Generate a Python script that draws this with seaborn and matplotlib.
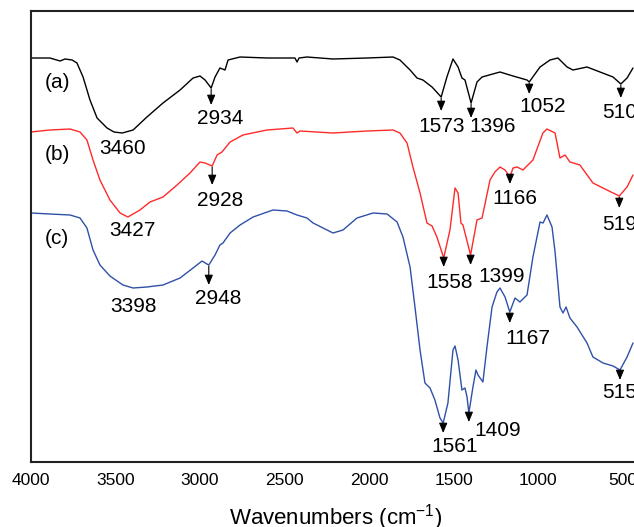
from matplotlib import pyplot as plt
import numpy as np
import pandas as pd
import seaborn as sns

# FTIR spectra, values (transmittance in arbitrary units)
wn_a = [4000, 3888, 3828, 3799, 3757, 3728, 3692, 3651, 3609, 3550, 3509, 3460,
        3396, 3314, 3219, 3118, 3041, 3000, 2970, 2934, 2911, 2882, 2852, 2834,
        2763, 2604, 2438, 2426, 2414, 2367, 2213, 2012, 1858, 1817, 1757, 1716,
        1681, 1627, 1573, 1539, 1503, 1473, 1450, 1432, 1396, 1361, 1331, 1225,
        1148, 1065, 1052, 988, 929, 882, 828, 793, 710, 633, 556, 510, 473, 438]
t_a = [404, 404, 401, 403, 402, 399, 385, 362, 344, 334, 330, 329,
       332, 345, 359, 372, 384, 386, 382, 374, 385, 394, 392, 402,
       405, 404, 404, 400, 404, 405, 403, 404, 405, 402, 392, 384,
       382, 375, 365, 385, 403, 395, 384, 382, 359, 380, 385, 390,
       386, 382, 380, 395, 402, 404, 395, 392, 395, 390, 385, 378, 384, 394]

wn_b = [4000, 3888, 3769, 3710, 3669, 3633, 3592, 3533, 3473, 3427, 3355, 3296,
        3219, 3136, 3059, 3000, 2970, 2928, 2899, 2870, 2822, 2746, 2604, 2450,
        2426, 2408, 2213, 2012, 1858, 1817, 1775, 1740, 1698, 1657, 1627, 1598,
        1558, 1521, 1491, 1473, 1456, 1444, 1399, 1361, 1331, 1284, 1255, 1225,
        1195, 1166, 1148, 1124, 1089, 1030, 971, 947, 899, 870, 840, 811, 752,
        675, 592, 519, 473, 438]
t_b = [330, 332, 333, 330, 322, 302, 282, 262, 249, 245, 252, 260,
       265, 277, 289, 300, 299, 296, 307, 310, 320, 327, 332, 334,
       329, 331, 329, 331, 332, 329, 319, 295, 269, 239, 236, 225,
       204, 232, 274, 269, 239, 237, 207, 242, 244, 282, 290, 295,
       292, 285, 294, 295, 292, 302, 329, 333, 329, 304, 307, 300, 297,
       279, 272, 266, 275, 287]

wn_c = [4000, 3888, 3769, 3710, 3669, 3633, 3592, 3533, 3456, 3396, 3314, 3219,
        3118, 3041, 2988, 2959, 2948, 2911, 2882, 2864, 2822, 2763, 2686, 2568,
        2485, 2426, 2367, 2331, 2213, 2154, 2071, 1976, 1893, 1834, 1799, 1757,
        1728, 1698, 1669, 1639, 1610, 1580, 1561, 1533, 1503, 1491, 1473, 1450,
        1432, 1420, 1409, 1385, 1367, 1355, 1326, 1302, 1272, 1243, 1225, 1195,
        1167, 1136, 1107, 1065, 1030, 988, 970, 947, 917, 899, 870, 852, 834,
        811, 769, 710, 675, 615, 556, 515, 473, 438]
t_c = [249, 248, 247, 244, 234, 212, 197, 186, 177, 174, 175, 177,
       184, 194, 201, 198, 197, 207, 217, 219, 229, 237, 245, 252,
       251, 247, 244, 239, 229, 232, 244, 249, 248, 240, 225, 195,
       155, 112, 79, 74, 62, 44, 39, 59, 112, 116, 102, 72,
       74, 65, 49, 75, 92, 87, 80, 115, 155, 170, 174, 165,
       150, 164, 160, 167, 205, 240, 239, 247, 235, 210, 155, 149, 155,
       144, 135, 119, 105, 99, 96, 92, 105, 119]

curve_names = ['(a)', '(b)', '(c)']
curve_colors = ['black', '#ff2a2a', '#3050a8']

# peak labels: (curve index, label, wavenumber)
peak_curve = [0, 0, 0, 0, 0, 0, 1, 1, 1, 1, 1, 1, 2, 2, 2, 2, 2, 2]
peak_text = ['3460', '2934', '1573', '1396', '1052', '510',
             '3427', '2928', '1558', '1399', '1166', '519',
             '3398', '2948', '1561', '1409', '1167', '515']
peak_wn = [3460, 2934, 1573, 1396, 1052, 510,
           3427, 2928, 1558, 1399, 1166, 519,
           3398, 2948, 1561, 1409, 1167, 515]

sns.set_style('white')
plt.rcParams['font.family'] = ['Liberation Sans', 'DejaVu Sans']
plt.rcParams['mathtext.fontset'] = 'custom'
plt.rcParams['mathtext.rm'] = 'Liberation Sans'
plt.rcParams['mathtext.it'] = 'Liberation Sans:italic'
plt.rcParams['text.color'] = 'black'
plt.rcParams['axes.labelcolor'] = 'black'
plt.rcParams['xtick.color'] = 'black'

W, H = 634, 527
fig = plt.figure(figsize=(W / 100, H / 100), dpi=100)
x_left, x_right = 31, 639.4   # right spine falls outside the picture (cropped)
y_top, y_bot = 11, 462
ax = fig.add_axes([x_left / W, (H - y_bot) / H,
                   (x_right - x_left) / W, (y_bot - y_top) / H])

data = [(wn_a, t_a), (wn_b, t_b), (wn_c, t_c)]
for (wn, t), name, col in zip(data, curve_names, curve_colors):
    df = pd.DataFrame({'wn': wn, 't': t})
    sns.lineplot(data=df, x='wn', y='t', color=col, lw=1.0, estimator=None,
                 ax=ax)

ax.set_xlim(4000, 400)
ax.set_ylim(0, 451)
ax.set_xticks(np.arange(4000, 499, -500))
ax.set_yticks([])
ax.set_ylabel('')
ax.tick_params(axis='x', length=0, pad=8, labelsize=12.5, colors='black')
ax.set_xlabel(r'Wavenumbers (cm$^{-1}$)', fontsize=16, labelpad=10)
for s in ax.spines.values():
    s.set_linewidth(1.5)
    s.set_color('#222222')

# curve tags
tag_t = [380, 307, 223]
for name, tt in zip(curve_names, tag_t):
    ax.text(3846, tt, name, fontsize=15, ha='center', va='center')

# label offsets (wavenumber shift, text height, arrow length) per peak
arrow_len = [0, 16, 13, 14, 11, 13, 0, 18, 8, 9, 6, 11, 0, 19, 9, 8, 10, 9]
text_dx = [4, 52, 5, 130, 82, -5, 25, 46, 37, 186, 30, 4, 2, 55, 70, 172, 108, 0]
text_t = [314, 344, 336, 335, 355, 350, 232, 262, 179, 186, 264, 237,
          155, 163, 15, 32, 124, 69]
for ci, lab, pw, al, dx, tt in zip(peak_curve, peak_text, peak_wn, arrow_len,
                                   text_dx, text_t):
    wn, t = data[ci]
    y0 = np.interp(pw, wn[::-1], t[::-1]) - 1
    if al > 0:
        ax.annotate('', xy=(pw, y0 - al), xytext=(pw, y0),
                    arrowprops=dict(arrowstyle='-|>,head_length=0.6,head_width=0.25',
                                    color='black', lw=0.8,
                                    shrinkA=0, shrinkB=0))
    ax.text(pw - dx, tt, lab, fontsize=15, ha='center', va='center')

fig.savefig('out.png', dpi=100)
